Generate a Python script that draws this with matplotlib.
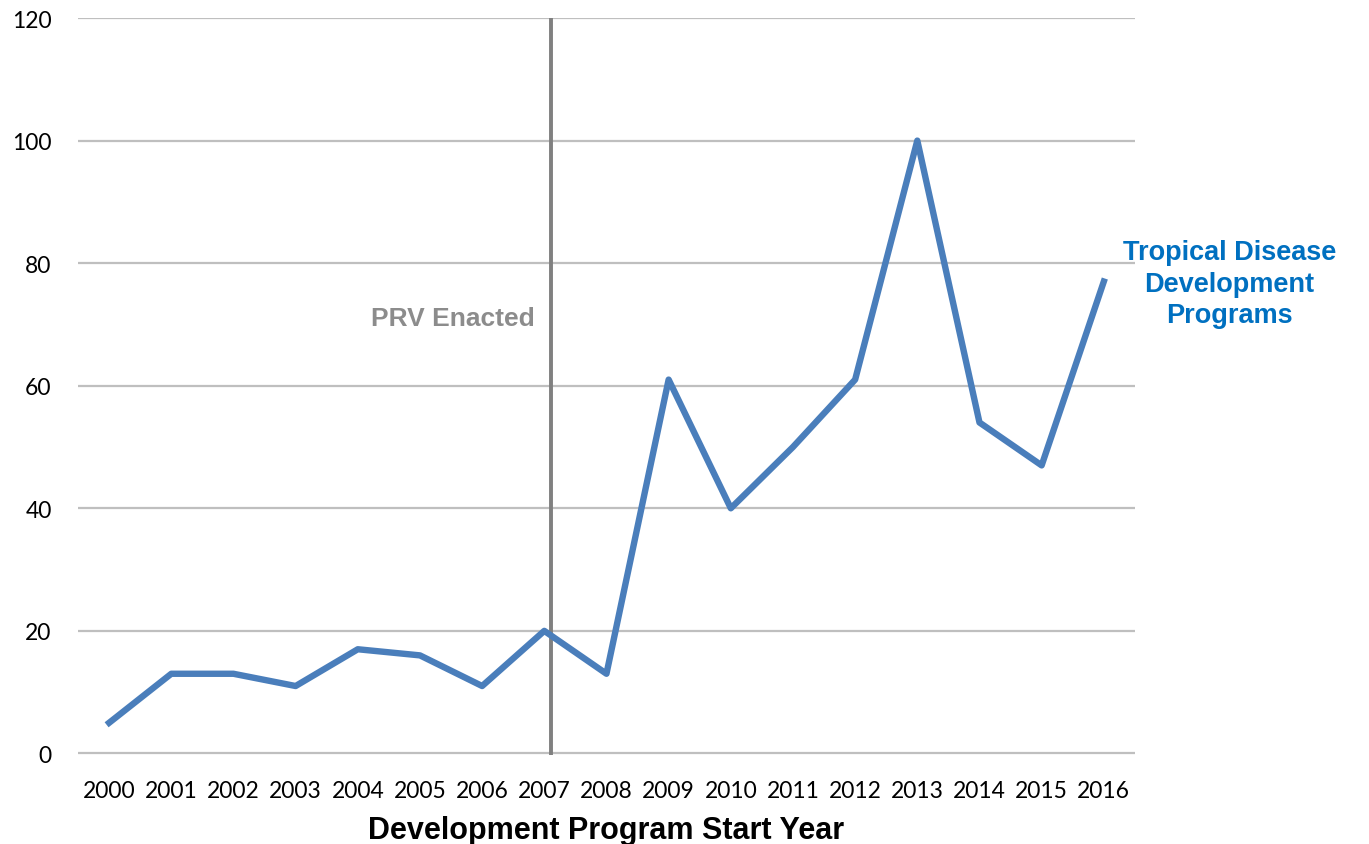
import matplotlib.pyplot as plt

years = list(range(2000, 2017))
programs = [5, 13, 13, 11, 17, 16, 11, 20, 13, 61, 40, 50, 61, 100, 54, 47, 77]

prv_year = 2007.1
y_ticks = [0, 20, 40, 60, 80, 100, 120]

fig = plt.figure(figsize=(13.69, 8.45), dpi=100)
ax = fig.add_axes([0.057, 0.105, 0.772, 0.8725])

for y in y_ticks:
    ax.axhline(y, color='#BFBFBF', linewidth=1.6, zorder=1)

ax.plot([prv_year, prv_year], [-0.3, 120], color='#808080', linewidth=2.8, zorder=2,
        solid_capstyle='butt')
ax.plot(years, programs, color='#4A7EBB', linewidth=4.6, zorder=3)

ax.set_xlim(1999.5, 2016.5)
ax.set_xticks(years)
ax.set_xticklabels([str(y) for y in years], fontsize=16.5, family='Lato')
ax.set_yticks(y_ticks)
ax.set_yticklabels([str(y) for y in y_ticks], fontsize=16.5, family='Lato')
ax.tick_params(length=0)
ax.tick_params(axis='x', pad=18)
ax.tick_params(axis='y', pad=19)
for s in ax.spines.values():
    s.set_visible(False)
ax.set_ylim(-0.3, 120)
ax.set_xlabel('Development Program Start Year', fontsize=22, fontweight='bold',
              family='Liberation Sans', labelpad=10)

ax.text(2006.85, 71, 'PRV Enacted', color='#8C8C8C', fontsize=19, fontweight='bold',
        family='Liberation Sans', ha='right', va='center')

fig.text(0.898, 0.663, 'Tropical Disease\nDevelopment\nPrograms', color='#0070C0',
         fontsize=19.5, fontweight='bold', family='Liberation Sans', ha='center',
         va='center', linespacing=1.28)

fig.savefig('out.png', dpi=100)
